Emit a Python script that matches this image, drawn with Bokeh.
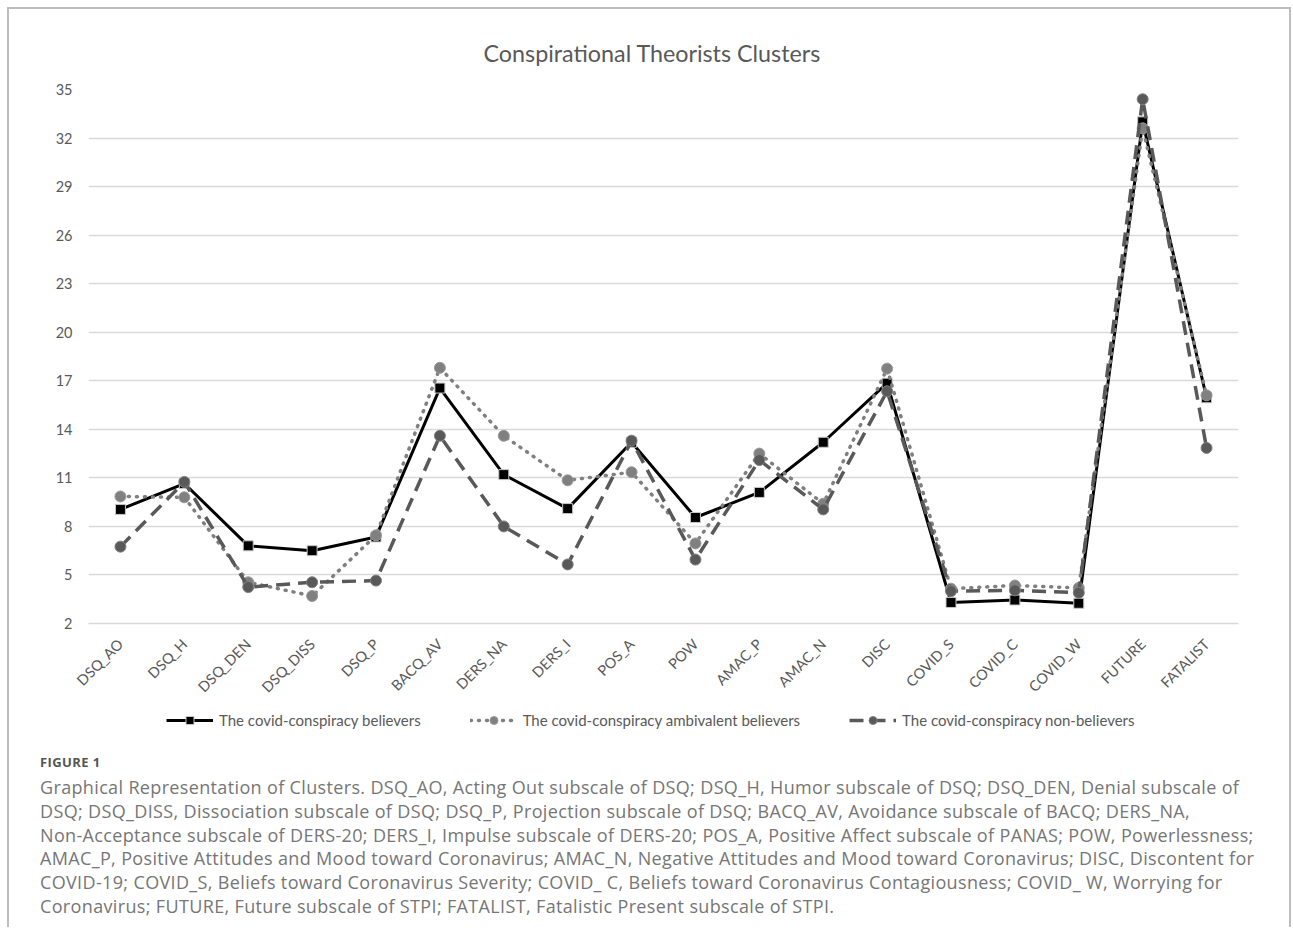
from bokeh.plotting import figure
from bokeh.models import (FactorRange, FixedTicker, Range1d, Legend, LegendItem, Div)
from bokeh.layouts import column
from bokeh.embed import file_html
from bokeh.resources import INLINE
from math import pi

cats = ["DSQ_AO", "DSQ_H", "DSQ_DEN", "DSQ_DISS", "DSQ_P", "BACQ_AV", "DERS_NA", "DERS_I",
        "POS_A", "POW", "AMAC_P", "AMAC_N", "DISC", "COVID_S", "COVID_C", "COVID_W",
        "FUTURE", "FATALIST"]
believers = [9.05, 10.65, 6.8, 6.5, 7.35, 16.55, 11.2, 9.1, 13.2, 8.55, 10.1, 13.2,
             16.85, 3.3, 3.45, 3.25, 33.0, 15.95]
ambivalent = [9.85, 9.8, 4.55, 3.7, 7.45, 17.8, 13.6, 10.85, 11.35, 6.95, 12.5, 9.4,
              17.75, 4.15, 4.35, 4.2, 32.6, 16.1]
nonbelievers = [6.75, 10.75, 4.25, 4.55, 4.65, 13.6, 8.0, 5.65, 13.3, 5.95, 12.1, 9.05,
                16.35, 4.0, 4.05, 3.9, 34.4, 12.85]
y_ticks = [2, 5, 8, 11, 14, 17, 20, 23, 26, 29, 32, 35]
series_names = ["The covid-conspiracy believers",
                "The covid-conspiracy ambivalent believers",
                "The covid-conspiracy non-believers"]
title_text = "Conspirational Theorists Clusters"
caption_head = "FIGURE 1"
caption_lines = [
    "Graphical Representation of Clusters. DSQ_AO, Acting Out subscale of DSQ; DSQ_H, Humor subscale of DSQ; DSQ_DEN, Denial subscale of",
    "DSQ; DSQ_DISS, Dissociation subscale of DSQ; DSQ_P, Projection subscale of DSQ; BACQ_AV, Avoidance subscale of BACQ; DERS_NA,",
    "Non-Acceptance subscale of DERS-20; DERS_I, Impulse subscale of DERS-20; POS_A, Positive Affect subscale of PANAS; POW, Powerlessness;",
    "AMAC_P, Positive Attitudes and Mood toward Coronavirus; AMAC_N, Negative Attitudes and Mood toward Coronavirus; DISC, Discontent for",
    "COVID-19; COVID_S, Beliefs toward Coronavirus Severity; COVID_ C, Beliefs toward Coronavirus Contagiousness; COVID_ W, Worrying for",
    "Coronavirus; FUTURE, Future subscale of STPI; FATALIST, Fatalistic Present subscale of STPI.",
]

p = figure(frame_width=1150, frame_height=534,
           x_range=FactorRange(factors=cats, range_padding=0),
           y_range=Range1d(2, 35), output_backend="svg", toolbar_location=None,
           min_border_left=79, min_border_right=51, min_border_top=80,
           min_border_bottom=78, title=title_text)
p.outline_line_color = None
p.background_fill_color = "white"
p.border_fill_color = "white"
p.title.align = "left"
p.title.offset = 395
p.title.standoff = 46
p.title.text_font = "Lato"
p.title.text_font_size = "23.3px"
p.title.text_font_style = "normal"
p.title.text_color = "#595959"

p.yaxis.ticker = FixedTicker(ticks=y_ticks)
p.ygrid.ticker = FixedTicker(ticks=y_ticks)
p.ygrid.grid_line_color = "#d9d9d9"
p.ygrid.grid_line_width = 1.5
p.xgrid.grid_line_color = None
p.yaxis.axis_line_color = None
p.yaxis.major_tick_line_color = None
p.yaxis.minor_tick_line_color = None
p.yaxis.major_label_text_font = "Lato"
p.yaxis.major_label_text_font_size = "14.5px"
p.yaxis.major_label_text_color = "#595959"
p.yaxis.major_label_standoff = 10
p.xaxis.axis_line_color = "#d9d9d9"
p.xaxis.axis_line_width = 1.5
p.xaxis.major_tick_line_color = None
p.xaxis.minor_tick_line_color = None
p.xaxis.major_label_orientation = pi / 4
p.xaxis.major_label_text_font = "Lato"
p.xaxis.major_label_text_font_size = "14.5px"
p.xaxis.major_label_text_color = "#595959"
p.xaxis.major_label_standoff = 12


def draw(fig, xs, ys, kind):
    if kind == 0:
        a = fig.line(xs, ys, line_color="black", line_width=3)
        b = fig.scatter(xs, ys, marker="square", size=10, fill_color="black",
                        line_color="#c8c8c8", line_width=1)
    elif kind == 1:
        a = fig.line(xs, ys, line_color="#7f7f7f", line_width=3.5, line_dash="1 7",
                     line_cap="round")
        b = fig.scatter(xs, ys, marker="circle", size=11, fill_color="#808080",
                        line_color="#9a9a9a", line_width=1)
    else:
        a = fig.line(xs, ys, line_color="#595959", line_width=3.5, line_dash="14 8")
        b = fig.scatter(xs, ys, marker="circle", size=11, fill_color="#595959",
                        line_color="#808080", line_width=1)
    return [a, b]


all_series = [believers, ambivalent, nonbelievers]
for k, ys in enumerate(all_series):
    draw(p, cats, ys, k)

# legend strip: same series drawn on a range where they fall outside the view,
# so only the legend entries are visible
lg = figure(width=1280, height=38, output_backend="svg", toolbar_location=None,
            min_border=0, x_axis_location=None, y_axis_location=None,
            x_range=FactorRange(factors=cats, range_padding=0), y_range=Range1d(-20, -19))
lg.grid.visible = False
lg.outline_line_color = None
lg.background_fill_color = "white"
lg.border_fill_color = "white"
items = []
for k, (name, ys) in enumerate(zip(series_names, all_series)):
    items.append(LegendItem(label=name, renderers=draw(lg, cats, ys, k)))
legend = Legend(items=items, orientation="horizontal", location=(78, 12),
                glyph_width=47, label_standoff=6, spacing=49, padding=4, margin=0,
                border_line_color=None, background_fill_alpha=0, label_text_font="Lato",
                label_text_font_size="15px", label_text_color="#595959")
lg.add_layout(legend, "center")

head_html = ('<div style="font-family:\'Open Sans\';font-size:13px;font-weight:bold;'
             'letter-spacing:0.4px;color:#555555;line-height:16px;margin:0 0 6px 0">'
             + caption_head + '</div>')
body_html = ('<div style="font-family:\'Open Sans\';font-size:18px;letter-spacing:0.35px;'
             'color:#767676;line-height:23.8px;margin:0;white-space:nowrap">'
             + "<br>".join(caption_lines) + '</div>')
cap = Div(text=head_html + body_html, width=1280, height=185,
          styles={"padding-left": "31px", "padding-top": "12px", "margin": "0"})

lay = column(p, lg, cap, spacing=0,
             styles={"margin-left": "7px", "margin-top": "7px",
                     "border-left": "2px solid #bdbdbd",
                     "border-top": "2px solid #bdbdbd",
                     "border-right": "2px solid #bdbdbd",
                     "background-color": "white"})

open("out.html", "w").write(file_html(lay, INLINE))
